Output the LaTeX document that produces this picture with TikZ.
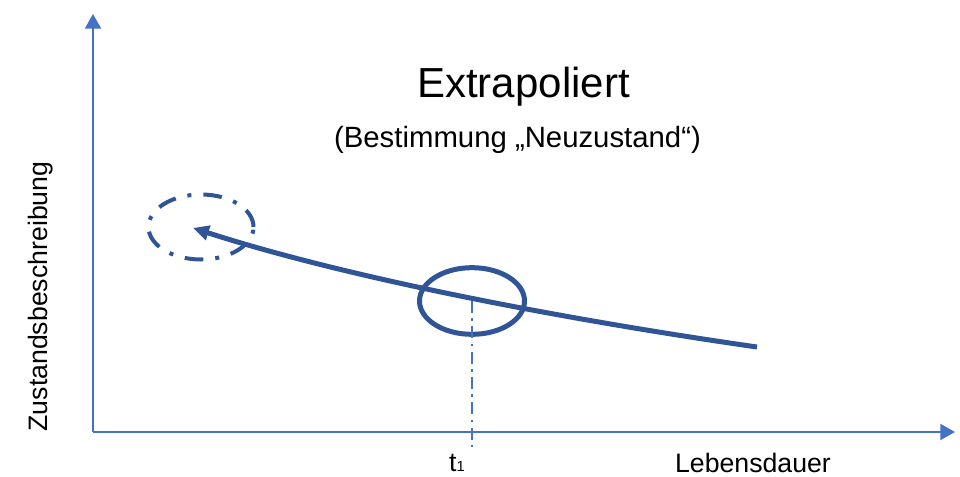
\documentclass[tikz,border=0pt]{standalone}
\usepackage{fontspec}
\setmainfont{Liberation Sans}
\usepackage{tikz}
\usetikzlibrary{arrows.meta,shapes.geometric}
\definecolor{axisblue}{HTML}{4472C4}
\definecolor{deepblue}{HTML}{2F5597}
\tikzset{axis/.style={draw=axisblue,line width=1.5pt,-{Triangle[length=11pt,width=12pt]}},curve/.style={draw=deepblue,line width=3.75pt,-{Triangle[length=12pt,width=11pt]}},ring/.style={ellipse,draw=deepblue,line width=3.75pt,minimum width=78.75pt,minimum height=50pt,inner sep=0pt},dashring/.style={ring,line width=3pt,minimum height=48.75pt,dash pattern=on 14pt off 9pt on 3pt off 9pt},guide/.style={draw=axisblue,line width=1.5pt,dash pattern=on 9pt off 4pt on 2pt off 4pt},lbl/.style={font=\fontsize{20}{24}\selectfont,inner sep=0pt}}
\begin{document}
\begin{tikzpicture}[x=0.75pt,y=-0.75pt]
\useasboundingbox (0,0) rectangle (960,477);
\coordinate (o) at (93,432);\coordinate (ytop) at (93,14);\coordinate (xend) at (955,432);
\draw[axis] (o)--(ytop);\draw[axis] (o)--(xend);
\node[ring] (jetzt) at (472,301) {};
\node[dashring] (neu) at (201,227) {};
\coordinate (spaet) at (757,347);\coordinate (ziel) at (193,228);\coordinate (fuss) at (472,447);
\draw[guide] (jetzt.center)--(fuss);
\draw[curve] (spaet) .. controls (610,326) and (370,285) .. (ziel);
\node[font=\fontsize{31.5}{36}\selectfont,anchor=base,inner sep=0pt] (titel) at (523.5,98) {Extrapoliert};
\node[font=\fontsize{22}{26}\selectfont,anchor=base,inner sep=0pt] (untertitel) at (517.5,148) {(Bestimmung „Neuzustand“)};
\node[lbl,rotate=90,anchor=base] (zustand) at (47,296.5) {Zustandsbeschreibung};
\node[lbl,anchor=base] (t1) at (457,471) {t{\fontsize{11}{13}\selectfont 1}};
\node[lbl,anchor=base] (dauer) at (753,472) {Lebensdauer};
\end{tikzpicture}
\end{document}
